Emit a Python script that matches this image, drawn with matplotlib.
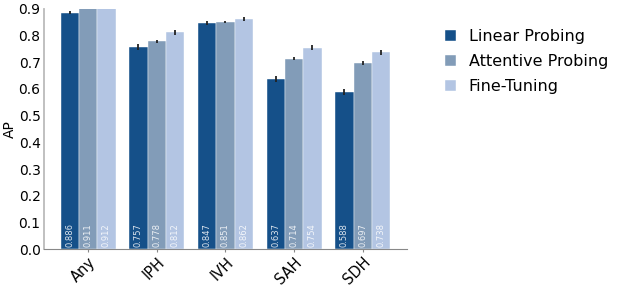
import matplotlib
matplotlib.use("Agg")
import matplotlib.pyplot as plt
import numpy as np

categories = ["Any", "IPH", "IVH", "SAH", "SDH"]
methods = ["Linear Probing", "Attentive Probing", "Fine-Tuning"]
linear = [0.886, 0.757, 0.847, 0.637, 0.588]
attentive = [0.911, 0.778, 0.851, 0.714, 0.697]
finetune = [0.912, 0.812, 0.862, 0.754, 0.738]
linear_err = [0.005, 0.010, 0.008, 0.011, 0.011]
attentive_err = [0.004, 0.006, 0.005, 0.006, 0.007]
finetune_err = [0.004, 0.009, 0.007, 0.009, 0.009]
colors = ["#155089", "#829cb8", "#b3c5e3"]

fig = plt.figure(figsize=(6.21, 2.87), dpi=100)
ax = fig.add_axes([0.071, 0.132, 0.584, 0.837])

x = np.arange(len(categories))
w = 0.8 / 3
series = [linear, attentive, finetune]
errs = [linear_err, attentive_err, finetune_err]
for i in range(3):
    pos = x + (i - 1) * w
    ax.bar(pos, series[i], w, yerr=errs[i], color=colors[i], label=methods[i],
           edgecolor="#ffffff", linewidth=0.3,
           error_kw=dict(ecolor="#222222", elinewidth=1.3, capsize=0))
    for p, v in zip(pos, series[i]):
        ax.text(p, 0.008, f"{v:.3f}", rotation=90, ha="center", va="bottom",
                color="white", alpha=0.85, fontsize=6)

ax.set_ylim(0, 0.9)
ax.set_yticks(np.arange(0, 0.91, 0.1))
ax.set_yticklabels([f"{t:.1f}" for t in np.arange(0, 0.91, 0.1)], fontsize=10)
ax.set_xticks(x)
ax.set_xticklabels(categories, rotation=45, ha="right", rotation_mode="anchor", fontsize=10.5)
ax.set_ylabel("AP", fontsize=10, labelpad=1)
ax.spines["top"].set_visible(False)
ax.spines["right"].set_visible(False)
ax.spines["left"].set_color("#bbbbbb")
ax.spines["left"].set_linewidth(1.3)
ax.spines["bottom"].set_color("#888888")
ax.tick_params(axis="y", length=0, pad=2.5)
ax.tick_params(axis="x", length=2.5, pad=1.5, color="#888888")

ax.legend(loc="center left", bbox_to_anchor=(1.065, 0.78), frameon=False, fontsize=11.5,
          handlelength=0.7, handleheight=0.7, labelspacing=0.62)

fig.savefig("out.png", dpi=100)
